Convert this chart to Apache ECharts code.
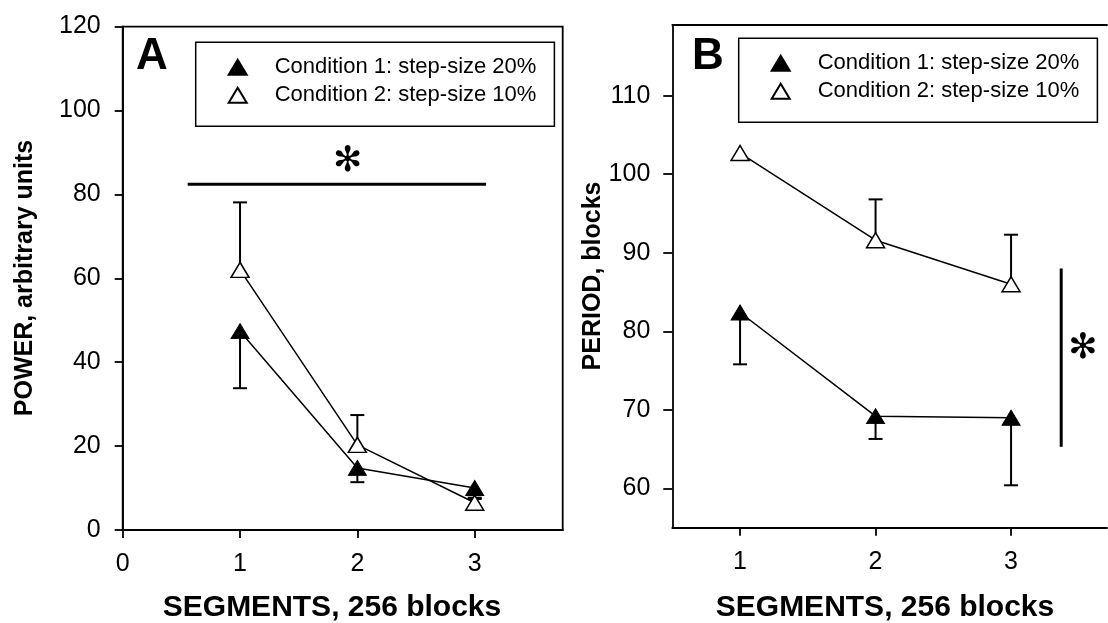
<!DOCTYPE html>
<html>
<head>
<meta charset="utf-8">
<script src="https://cdn.jsdelivr.net/npm/echarts@6/dist/echarts.min.js"></script>
<style>
  html, body { margin: 0; padding: 0; background: #fff; overflow: hidden; }
  #chart { width: 1108px; height: 623px; }
</style>
</head>
<body>
<div id="chart"></div>
<script>
// ---- data ----
const segments = [1, 2, 3];
const seriesNames = ['Condition 1: step-size 20%', 'Condition 2: step-size 10%'];

const powerCond1 = [47.4, 14.8, 10.0];
const powerCond1Sd = [13.6, 3.4, 2.3];     // drawn downward
const powerCond2 = [62.0, 20.3, 6.5];
const powerCond2Sd = [16.1, 7.1, 0.9];     // drawn upward

const periodCond1 = [82.4, 69.2, 69.0];
const periodCond1Sd = [6.6, 2.9, 8.6];     // drawn downward
const periodCond2 = [102.7, 91.6, 86.0];
const periodCond2Sd = [0, 5.2, 6.3];       // drawn upward (first one hidden by marker)

const powerTicks = [0, 20, 40, 60, 80, 100, 120];
const periodTicks = [60, 70, 80, 90, 100, 110];
const powerSegTicks = [0, 1, 2, 3];
const periodSegTicks = [1, 2, 3];

// significance annotations [x1, y1, x2, y2] and asterisk positions [x, y]
const sigPowerBar = [0.554, 82.4, 3.097, 82.4];
const sigPeriodBar = [3.37, 88.0, 3.37, 65.3];
const starPower = [1.918, 87.8];
const starPeriod = [3.53, 77.8];

// ---- chart ----
const FONT = "'Liberation Sans', Arial, Helvetica, sans-serif";
const chart = echarts.init(document.getElementById('chart'), null, { renderer: 'canvas' });

function pts(vals) { return segments.map((s, i) => [s, vals[i]]); }
function errs(vals, sd, dir) { return segments.map((s, i) => [s, vals[i], vals[i] + dir * sd[i]]); }

function errRender(params, api) {
  const x = api.value(0), y = api.value(1), e = api.value(2);
  if (e === y) return null;
  const p0 = api.coord([x, y]);
  const p1 = api.coord([x, e]);
  const hw = 7;
  return {
    type: 'group',
    children: [
      { type: 'line', shape: { x1: p0[0], y1: p0[1], x2: p1[0], y2: p1[1] }, style: { stroke: '#000', lineWidth: 2 } },
      { type: 'line', shape: { x1: p1[0] - hw, y1: p1[1], x2: p1[0] + hw, y2: p1[1] }, style: { stroke: '#000', lineWidth: 2 } }
    ]
  };
}
function barRender(params, api) {
  const a = api.coord([api.value(0), api.value(1)]);
  const b = api.coord([api.value(2), api.value(3)]);
  return { type: 'line', shape: { x1: a[0], y1: a[1], x2: b[0], y2: b[1] }, style: { stroke: '#000', lineWidth: 3 } };
}
function starRender(params, api) {
  const p = api.coord([api.value(0), api.value(1)]);
  return { type: 'text', x: p[0], y: p[1], style: { text: '\u273B', fontSize: 35, fontFamily: 'DejaVu Sans', fill: '#000', align: 'center', verticalAlign: 'middle' } };
}

function errSeries(data, xi) {
  return { type: 'custom', xAxisIndex: xi, yAxisIndex: xi, renderItem: errRender, data: data,
    encode: { x: 0, y: [1, 2] }, z: 1, silent: true, clip: false };
}
function lineSeries(name, data, xi, filled) {
  return {
    name: name, type: 'line', xAxisIndex: xi, yAxisIndex: xi, data: data,
    symbol: 'triangle', symbolSize: [18, 15], z: 3, silent: true,
    lineStyle: { color: '#000', width: 1.5 },
    itemStyle: filled ? { color: '#000', borderColor: '#000', borderWidth: 1 }
                      : { color: '#fff', borderColor: '#000', borderWidth: 1.5 }
  };
}

const axisLineStyle = { show: true, onZero: false, lineStyle: { color: '#000', width: 1.8 } };
const tickStyle = { show: true, length: 8, lineStyle: { color: '#000', width: 1.8 } };
const labelStyle = { color: '#000', fontSize: 25, fontFamily: FONT };

const legendBase = {
  orient: 'vertical', icon: 'triangle', itemWidth: 18, itemHeight: 15, itemGap: 6,
  padding: [14, 18, 20, 32], borderColor: '#000', borderWidth: 1.5, selectedMode: false,
  textStyle: { fontSize: 22, fontFamily: FONT, color: '#000', lineHeight: 22, padding: [0, 0, 0, 23] },
  data: seriesNames
};

const option = {
  animation: false,
  backgroundColor: '#fff',
  grid: [
    { left: 122.7, top: 26.6, width: 440, height: 503.4, show: true, borderColor: '#000', borderWidth: 1.8, backgroundColor: 'transparent' },
    { left: 672.3, top: 25, width: 434.7, height: 502.7, show: false }
  ],
  xAxis: [
    { type: 'value', gridIndex: 0, min: 0, max: 3.75, axisLine: axisLineStyle,
      axisTick: Object.assign({ customValues: powerSegTicks }, tickStyle),
      axisLabel: Object.assign({ customValues: powerSegTicks, margin: 22 }, labelStyle),
      splitLine: { show: false } },
    { type: 'value', gridIndex: 1, min: 0.5, max: 3.708, axisLine: axisLineStyle,
      axisTick: Object.assign({ customValues: periodSegTicks }, tickStyle),
      axisLabel: Object.assign({ customValues: periodSegTicks, margin: 22 }, labelStyle),
      splitLine: { show: false } },
    { type: 'value', gridIndex: 1, position: 'top', min: 0.5, max: 3.708, axisLine: axisLineStyle,
      axisTick: { show: false }, axisLabel: { show: false }, splitLine: { show: false } }
  ],
  yAxis: [
    { type: 'value', gridIndex: 0, min: 0, max: 120, axisLine: axisLineStyle,
      axisTick: Object.assign({ customValues: powerTicks }, tickStyle),
      axisLabel: Object.assign({ customValues: powerTicks, margin: 22 }, labelStyle),
      splitLine: { show: false } },
    { type: 'value', gridIndex: 1, min: 55, max: 119, axisLine: axisLineStyle,
      axisTick: Object.assign({ customValues: periodTicks }, tickStyle, { length: 9 }),
      axisLabel: Object.assign({ customValues: periodTicks, margin: 22 }, labelStyle),
      splitLine: { show: false } }
  ],
  legend: [
    Object.assign({}, legendBase, { left: 195.7, top: 42.3 }),
    Object.assign({}, legendBase, { left: 738.7, top: 38.3 })
  ],
  graphic: [
    { type: 'text', left: 136, top: 35, style: { text: 'A', fontSize: 44, fontWeight: 'bold', fontFamily: FONT, fill: '#000' } },
    { type: 'text', left: 692, top: 35, style: { text: 'B', fontSize: 44, fontWeight: 'bold', fontFamily: FONT, fill: '#000' } },
    { type: 'text', x: 332, y: 608, style: { text: 'SEGMENTS, 256 blocks', fontSize: 30, fontWeight: 'bold', fontFamily: FONT, fill: '#000', align: 'center', verticalAlign: 'middle' } },
    { type: 'text', x: 885, y: 608, style: { text: 'SEGMENTS, 256 blocks', fontSize: 30, fontWeight: 'bold', fontFamily: FONT, fill: '#000', align: 'center', verticalAlign: 'middle' } },
    { type: 'text', x: 25, y: 278, rotation: Math.PI / 2, style: { text: 'POWER, arbitrary units', fontSize: 25, fontWeight: 'bold', fontFamily: FONT, fill: '#000', align: 'center', verticalAlign: 'middle' } },
    { type: 'text', x: 593, y: 276, rotation: Math.PI / 2, style: { text: 'PERIOD, blocks', fontSize: 25, fontWeight: 'bold', fontFamily: FONT, fill: '#000', align: 'center', verticalAlign: 'middle' } }
  ],
  series: [
    errSeries(errs(powerCond1, powerCond1Sd, -1), 0),
    errSeries(errs(powerCond2, powerCond2Sd, 1), 0),
    errSeries(errs(periodCond1, periodCond1Sd, -1), 1),
    errSeries(errs(periodCond2, periodCond2Sd, 1), 1),
    lineSeries(seriesNames[0], pts(powerCond1), 0, true),
    lineSeries(seriesNames[1], pts(powerCond2), 0, false),
    lineSeries(seriesNames[0], pts(periodCond1), 1, true),
    lineSeries(seriesNames[1], pts(periodCond2), 1, false),
    { type: 'custom', xAxisIndex: 0, yAxisIndex: 0, renderItem: barRender, data: [sigPowerBar], z: 2, silent: true, clip: false, encode: { x: [0, 2], y: [1, 3] } },
    { type: 'custom', xAxisIndex: 1, yAxisIndex: 1, renderItem: barRender, data: [sigPeriodBar], z: 2, silent: true, clip: false, encode: { x: [0, 2], y: [1, 3] } },
    { type: 'custom', xAxisIndex: 0, yAxisIndex: 0, renderItem: starRender, data: [starPower], z: 2, silent: true, clip: false, encode: { x: 0, y: 1 } },
    { type: 'custom', xAxisIndex: 1, yAxisIndex: 1, renderItem: starRender, data: [starPeriod], z: 2, silent: true, clip: false, encode: { x: 0, y: 1 } }
  ]
};
chart.setOption(option);
</script>
</body>
</html>
